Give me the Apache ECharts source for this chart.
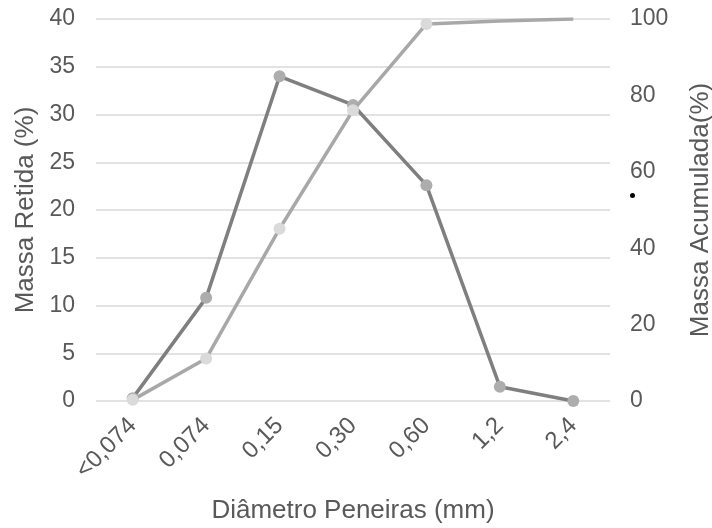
<!DOCTYPE html>
<html>
<head>
<meta charset="utf-8">
<script src="https://cdn.jsdelivr.net/npm/echarts@6/dist/echarts.min.js"></script>
<style>
  html, body { margin: 0; padding: 0; background: #ffffff; }
  #chart { width: 712px; height: 528px; }
</style>
</head>
<body>
<div id="chart"></div>
<script>
// Sieve sizes (mm)
const sieves = ['<0,074', '0,074', '0,15', '0,30', '0,60', '1,2', '2,4'];
// Mass retained on each sieve (%) – left axis
const massaRetida = [0.3, 10.8, 34.0, 31.0, 22.6, 1.5, 0];
// Cumulative mass (%) – right axis
const massaAcumulada = [0.3, 11.1, 45.1, 76.1, 98.7, 99.5, 100];
// Axis ticks
const leftTicks = [0, 5, 10, 15, 20, 25, 30, 35, 40];
const rightTicks = [0, 20, 40, 60, 80, 100];

const font = 'Liberation Sans, Arial, sans-serif';
const textColor = '#595959';

const chart = echarts.init(document.getElementById('chart'), null, { renderer: 'canvas' });

chart.setOption({
  animation: false,
  backgroundColor: '#ffffff',
  grid: { left: 96, right: 102, top: 19, bottom: 127, containLabel: false, outerBoundsMode: 'none' },
  xAxis: {
    type: 'category',
    data: sieves,
    boundaryGap: true,
    name: 'Diâmetro Peneiras (mm)',
    nameLocation: 'middle',
    nameGap: 97,
    nameTextStyle: { color: textColor, fontSize: 26, fontFamily: font },
    axisLine: { show: false },
    axisTick: { show: false },
    axisLabel: { color: textColor, fontSize: 24, fontFamily: font, rotate: 45, margin: 21 }
  },
  yAxis: [
    {
      type: 'value',
      min: leftTicks[0],
      max: leftTicks[leftTicks.length - 1],
      interval: leftTicks[1] - leftTicks[0],
      name: 'Massa Retida (%)',
      nameLocation: 'middle',
      nameGap: 56,
      nameRotate: 90,
      nameTextStyle: { color: textColor, fontSize: 26, fontFamily: font },
      axisLine: { show: false },
      axisTick: { show: false },
      axisLabel: { color: textColor, fontSize: 23, fontFamily: font, margin: 21 },
      splitLine: { lineStyle: { color: '#d9d9d9', width: 1.5 } }
    },
    {
      type: 'value',
      min: rightTicks[0],
      max: rightTicks[rightTicks.length - 1],
      interval: rightTicks[1] - rightTicks[0],
      name: 'Massa Acumulada(%)',
      nameLocation: 'middle',
      nameGap: 78,
      nameRotate: 90,
      nameTextStyle: { color: textColor, fontSize: 26, fontFamily: font },
      axisLine: { show: false },
      axisTick: { show: false },
      axisLabel: { color: textColor, fontSize: 23, fontFamily: font, margin: 20 },
      splitLine: { show: false }
    }
  ],
  series: [
    {
      name: 'Massa Retida',
      type: 'line',
      yAxisIndex: 0,
      data: massaRetida,
      symbol: 'circle',
      symbolSize: 12,
      lineStyle: { color: '#7f7f7f', width: 3.5 },
      itemStyle: { color: '#adadad' },
      z: 2
    },
    {
      name: 'Massa Acumulada',
      type: 'line',
      yAxisIndex: 1,
      // the last two points carry no marker
      data: massaAcumulada.map((v, i) => ({ value: v, symbolSize: i >= 5 ? 0 : 12 })),
      symbol: 'circle',
      lineStyle: { color: '#a8a8a8', width: 3.5 },
      itemStyle: { color: '#dadada' },
      z: 3
    }
  ],
  graphic: [
    { type: 'circle', left: 630, top: 193, shape: { r: 2.5 }, style: { fill: '#000000' } }
  ]
});
</script>
</body>
</html>
